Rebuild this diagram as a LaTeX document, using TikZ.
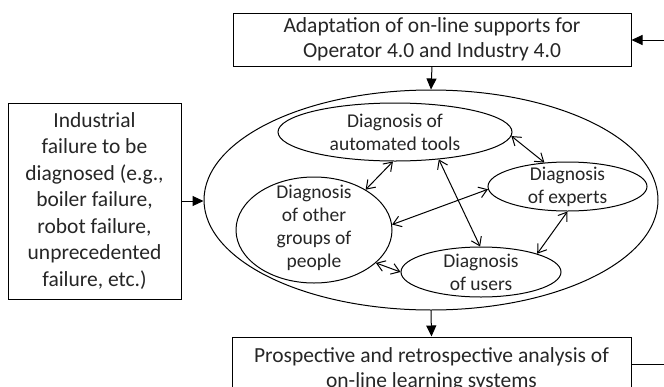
\documentclass[tikz,border=0pt]{standalone}
\usepackage{fontspec}
\setmainfont{Carlito}
\usetikzlibrary{shapes.geometric,arrows.meta}
\begin{document}
\begin{tikzpicture}[x=1pt,y=-1pt,
  boxnode/.style={draw=black, line width=1pt, inner sep=0pt, align=center, text=black!85,
    font=\fontsize{21.5pt}{25.5pt}\selectfont},
  ell/.style={draw=black, line width=1pt, ellipse, inner sep=0pt},
  etext/.style={align=center, inner sep=0pt, text=black!85, font=\fontsize{19.5pt}{23pt}\selectfont},
  dbl/.style={line width=1pt, {Straight Barb[length=8pt,width=11pt]}-{Straight Barb[length=8pt,width=11pt]}},
  flow/.style={line width=1pt, -{Triangle[length=11pt,width=10pt]}}
]
\useasboundingbox (0,0) rectangle (664,386);
\fill[white] (0,0) rectangle (664,386);

\node[boxnode, minimum width=398pt, minimum height=53pt] (top) at (432,39.5)
  {Adaptation of on-line supports for\\Operator 4.0 and Industry 4.0};
\node[boxnode, minimum width=173pt, minimum height=196pt,
  font=\fontsize{21.5pt}{26.5pt}\selectfont] (fail) at (94.5,201)
  {Industrial\\failure to be\\diagnosed (e.g.,\\boiler failure,\\robot failure,\\unprecedented\\failure, etc.)};
\node[boxnode, minimum width=399pt, minimum height=65pt] (bot) at (431.5,369.5)
  {Prospective and retrospective analysis of\\on-line learning systems};

\node[ell, minimum width=454pt, minimum height=220pt] (outer) at (431,200) {};
\node[ell, minimum width=234pt, minimum height=58pt] (auto) at (395,132) {};
\node[ell, minimum width=156pt, minimum height=106pt] (other) at (314,230) {};
\node[ell, minimum width=159pt, minimum height=49pt] (exp) at (567.5,186.5) {};
\node[ell, minimum width=160pt, minimum height=50pt] (users) at (481,272) {};

\node[etext] (autot) at (auto) {Diagnosis of\\automated tools};
\node[etext] (othert) at ([yshift=2pt]other.center) {Diagnosis\\of other\\groups of\\people};
\node[etext] (expt) at (exp) {Diagnosis\\of experts};
\node[etext] (userst) at (users) {Diagnosis\\of users};

\coordinate (tin) at (664,40);
\coordinate (rout) at (664,364);

\draw[flow] (tin) -- (tin -| top.east);
\draw[flow] (top.south) -- (outer.north);
\draw[flow] (fail.east) -- (fail.east -| outer.west);
\draw[flow] (outer.south) -- (bot.north);
\draw[line width=1pt] (rout -| bot.east) -- (rout);

\draw[dbl] (auto.266) -- (other.38);
\draw[dbl] (auto.-2) -- (exp.134);
\draw[dbl] (auto.-32) -- (users.92);
\draw[dbl] (other.4) -- (exp.182);
\draw[dbl] (exp.270) -- (users.18);
\draw[dbl] (other.-28) -- (users.180);
\end{tikzpicture}
\end{document}
